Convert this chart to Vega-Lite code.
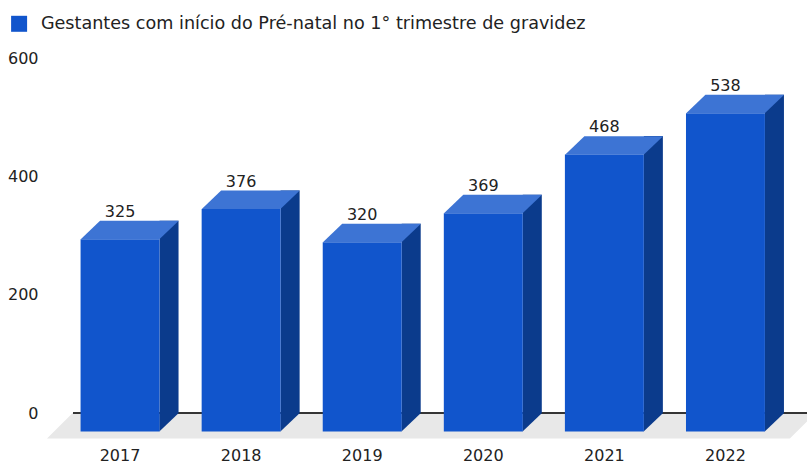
{
  "$schema": "https://vega.github.io/schema/vega-lite/v6.json",
  "width": 734,
  "height": 355,
  "autosize": "none",
  "padding": {"left": 73, "top": 58, "right": 0, "bottom": 51},
  "config": {"view": {"stroke": null}, "font": "DejaVu Sans"},
  "data": {
    "values": [
      {"ano": "2017", "valor": 325, "serie": "Gestantes com início do Pré-natal no 1° trimestre de gravidez"},
      {"ano": "2018", "valor": 376, "serie": "Gestantes com início do Pré-natal no 1° trimestre de gravidez"},
      {"ano": "2019", "valor": 320, "serie": "Gestantes com início do Pré-natal no 1° trimestre de gravidez"},
      {"ano": "2020", "valor": 369, "serie": "Gestantes com início do Pré-natal no 1° trimestre de gravidez"},
      {"ano": "2021", "valor": 468, "serie": "Gestantes com início do Pré-natal no 1° trimestre de gravidez"},
      {"ano": "2022", "valor": 538, "serie": "Gestantes com início do Pré-natal no 1° trimestre de gravidez"}
    ]
  },
  "layer": [
    {
      "data": {"values": [{"piso": "chão"}]},
      "mark": {"type": "point", "shape": "M -0.932 -0.0338 L 1 -0.0338 L 0.932 0.0338 L -1 0.0338 Z", "size": 591361, "filled": true, "fill": "#e8e8e8", "strokeWidth": 0, "opacity": 1, "yOffset": 12.5, "xOffset": -8.5},
      "encoding": {"y": {"datum": 0, "type": "quantitative"}}
    },
    {
      "mark": {"type": "rule", "color": "#333333", "strokeWidth": 1},
      "encoding": {"y": {"datum": 0, "type": "quantitative"}}
    },
    {
      "mark": {"type": "bar", "width": 19, "xOffset": 49, "color": "#0b3b8c", "opacity": 1},
      "encoding": {
        "x": {"field": "ano", "type": "nominal"},
        "y": {"field": "valor", "type": "quantitative"},
        "y2": {"datum": 0}
      }
    },
    {
      "mark": {"type": "point", "shape": "M -0.97 -0.925 L 0.97 -0.925 L -0.97 0.925 Z", "size": 400, "filled": true, "fill": "#0b3b8c", "strokeWidth": 0, "opacity": 1, "xOffset": 49, "yOffset": 9.25},
      "encoding": {
        "x": {"field": "ano", "type": "nominal"},
        "y": {"datum": 0, "type": "quantitative"}
      }
    },
    {
      "mark": {"type": "bar", "yOffset": 18.5, "y2Offset": 18.5, "opacity": 1},
      "encoding": {
        "x": {
          "field": "ano", "type": "nominal",
          "scale": {"range": [-13.5, 713], "paddingInner": 0.348, "paddingOuter": 0.174},
          "axis": {"title": null, "domain": false, "ticks": false, "labelPadding": 42, "labelFontSize": 16, "labelColor": "#222222", "labelAngle": 0, "labelAlign": "center", "bandPosition": 0.5}
        },
        "y": {
          "field": "valor", "type": "quantitative",
          "scale": {"domain": [0, 600]},
          "axis": {"title": null, "values": [0, 200, 400, 600], "domain": false, "ticks": false, "labelPadding": 35, "labelFontSize": 16, "labelColor": "#222222", "gridColor": "#cccccc"}
        },
        "y2": {"datum": 0},
        "color": {
          "field": "serie", "type": "nominal",
          "scale": {"range": ["#1155cc"]},
          "legend": {"title": null, "orient": "none", "legendX": -62.7, "legendY": -43, "symbolType": "square", "symbolSize": 256, "symbolStrokeWidth": 0, "labelFontSize": 17.6, "labelColor": "#222222", "labelLimit": 800, "labelOffset": 13, "padding": 0}
        }
      }
    },
    {
      "mark": {"type": "point", "shape": "M -1 0.189 L 0.604 0.189 L 1 -0.189 L -0.606 -0.189 Z", "size": 9604, "filled": true, "fill": "#3d74d4", "strokeWidth": 0, "opacity": 1, "xOffset": 9.7, "yOffset": 9.3},
      "encoding": {
        "x": {"field": "ano", "type": "nominal"},
        "y": {"field": "valor", "type": "quantitative"}
      }
    },
    {
      "mark": {"type": "text", "dy": -4, "baseline": "alphabetic", "fontSize": 16, "color": "#222222"},
      "encoding": {
        "x": {"field": "ano", "type": "nominal"},
        "y": {"field": "valor", "type": "quantitative"},
        "text": {"field": "valor", "type": "quantitative"}
      }
    }
  ]
}
